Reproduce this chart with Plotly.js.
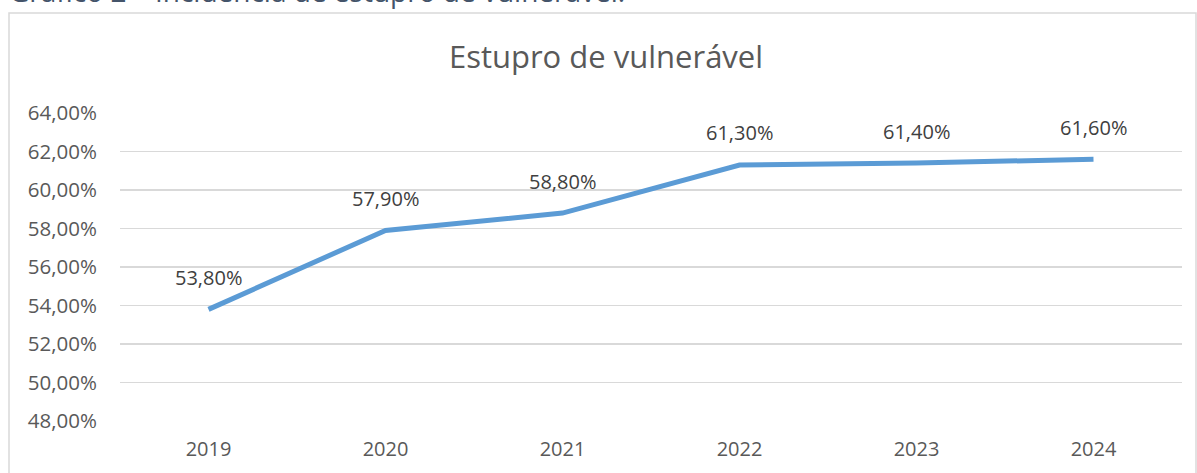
<!DOCTYPE html>
<html><head><meta charset="utf-8">
<script src="https://cdn.plot.ly/plotly-3.0.1.min.js"></script>
<style>html,body{margin:0;padding:0;background:#fff;}#chart{width:1197px;height:473px;}</style>
</head><body><div id="chart"></div>
<script>
const years = ['2019','2020','2021','2022','2023','2024'];
const values = [0.538, 0.579, 0.588, 0.613, 0.614, 0.616];
const labels = ['53,80%','57,90%','58,80%','61,30%','61,40%','61,60%'];
const yTicks = [0.48,0.50,0.52,0.54,0.56,0.58,0.60,0.62,0.64];

const FONT = 'Open Sans, DejaVu Sans, sans-serif';
const trace = {
  x: years, y: values, type: 'scatter', mode: 'lines',
  line: {color: '#5B9BD5', width: 5}, hoverinfo: 'skip'
};
const ann = years.map((yr, i) => ({
  x: i, y: values[i], xref: 'x', yref: 'y', text: labels[i], showarrow: false,
  xanchor: 'center', yanchor: 'middle', yshift: 32, font: {family: FONT, size: 20, color: '#404040'}
}));
ann.push({
  xref: 'paper', yref: 'paper', x: (7-120)/1062, y: (421-12)/308, xanchor: 'left', yanchor: 'bottom',
  text: 'Gráfico 2 – Incidência de estupro de vulnerável.', showarrow: false,
  font: {family: FONT, size: 28, color: '#44546A'}
});
const layout = {
  width: 1197, height: 473,
  margin: {l: 120, r: 15, t: 113, b: 52},
  paper_bgcolor: '#ffffff', plot_bgcolor: '#ffffff',
  separators: ',.',
  showlegend: false,
  title: {text: 'Estupro de vulnerável', x: (606-120)/1062, xref: 'paper', xanchor: 'center', y: 1-57/473, yref: 'container', yanchor: 'middle',
    font: {family: FONT, size: 31, color: '#595959'}},
  xaxis: {type: 'category', range: [-0.5, 5.5], showgrid: false, zeroline: false, showline: false, ticks: '',
    ticklabelstandoff: 14, tickfont: {family: FONT, size: 20, color: '#595959'}, fixedrange: true},
  yaxis: {range: [0.48, 0.64], tickvals: yTicks, tickformat: '.2%', showgrid: true, gridcolor: '#D9D9D9', gridwidth: 1.3,
    zeroline: false, showline: false, ticks: '', ticklabelstandoff: 22,
    tickfont: {family: FONT, size: 20.5, color: '#595959'}, fixedrange: true},
  annotations: ann,
  shapes: [{type: 'rect', xref: 'paper', yref: 'paper', x0: (9-120)/1062, x1: (1196-120)/1062, y0: -0.3, y1: (421-13)/308,
    line: {color: '#D9D9D9', width: 1.5}, fillcolor: 'rgba(0,0,0,0)', layer: 'below'}]
};
Plotly.newPlot('chart', [trace], layout, {displayModeBar: false, staticPlot: true});
</script></body></html>
